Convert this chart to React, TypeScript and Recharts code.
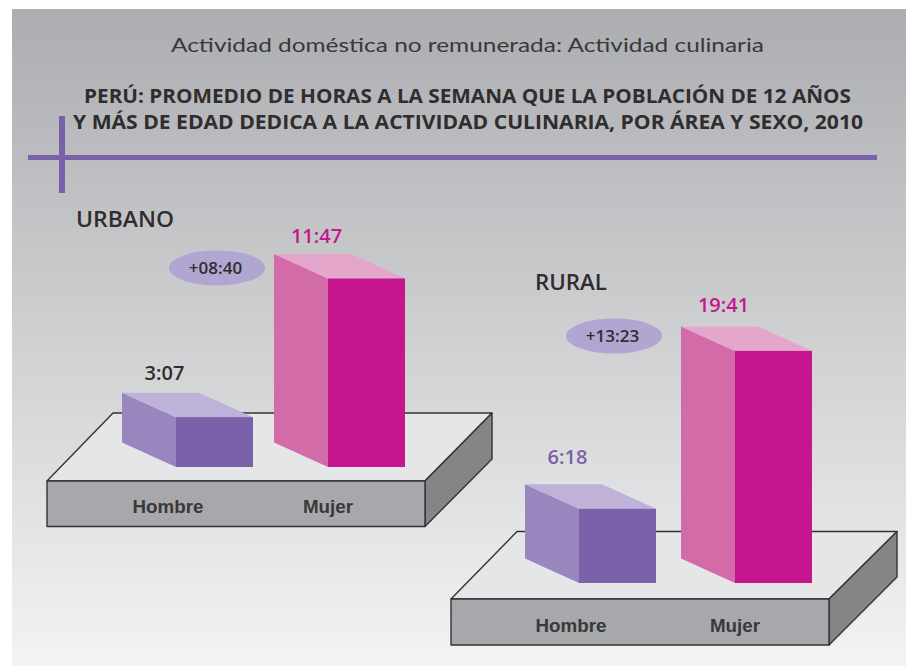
import React from "react";
import { BarChart, Bar, XAxis, YAxis, LabelList } from "recharts";

const categories = ["Hombre", "Mujer"];
const urbanHours = [3.117, 11.783];
const urbanLabels = ["3:07", "11:47"];
const urbanGap = "+08:40";
const ruralHours = [6.3, 19.683];
const ruralLabels = ["6:18", "19:41"];
const ruralGap = "+13:23";

const urbanData = categories.map((name, i) => ({ name, value: urbanHours[i], label: urbanLabels[i] }));
const ruralData = categories.map((name, i) => ({ name, value: ruralHours[i], label: ruralLabels[i] }));

const PALETTE = [
  { front: "#7a61a9", side: "#9a86bf", top: "#beb2d9" },
  { front: "#c6168d", side: "#d46ba9", top: "#e5a6cc" },
];
const DX = 54;
const DY = 24.5;
const SANS = "'Open Sans', sans-serif";
const HELV = "'Liberation Sans', Arial, sans-serif";
const INK = "#2f2d2e";
const TICK_SHIFT = [-46, -38];

const Box3D = (props: any) => {
  const { x, y, width, height, index } = props;
  const c = PALETTE[index];
  const b = y + height;
  return (
    <g>
      <polygon points={`${x},${y} ${x - DX},${y - DY} ${x - DX},${b - DY} ${x},${b}`} fill={c.side} />
      <polygon points={`${x},${y} ${x + width},${y} ${x + width - DX},${y - DY} ${x - DX},${y - DY}`} fill={c.top} />
      <rect x={x} y={y} width={width} height={height} fill={c.front} />
    </g>
  );
};

const valueLabel = (colors: string[], lift: number[]) => (props: any) => {
  const { x, y, width, value, index } = props;
  return (
    <text x={x + width / 2 - 50} y={y - lift[index]} textAnchor="middle" fontFamily={SANS} fontWeight={600} fontSize={20} fill={colors[index]}>
      {value}
    </text>
  );
};

const catTick = (drop: number) => (props: any) => {
  const { x, y, payload, index } = props;
  return (
    <text x={x + TICK_SHIFT[index]} y={y + drop} textAnchor="middle" fontFamily={HELV} fontWeight={700} fontSize={18.8} fill="#3a3839">
      {payload.value}
    </text>
  );
};

const Platform = ({ fx1, fx2, fy1, fy2, bx1, bx2, by1, by2 }: any) => (
  <g stroke="#333" strokeWidth={1.4} strokeLinejoin="round">
    <polygon points={`${fx1},${fy1} ${bx1},${by1} ${bx2},${by1} ${fx2},${fy1}`} fill="#e5e6e8" />
    <polygon points={`${fx2},${fy1} ${bx2},${by1} ${bx2},${by2} ${fx2},${fy2}`} fill="#848587" />
    <rect x={fx1} y={fy1} width={fx2 - fx1} height={fy2 - fy1} fill="#a7a8ab" />
  </g>
);

const Gap = ({ cx, cy, text }: any) => (
  <g>
    <ellipse cx={cx} cy={cy} rx={48} ry={17.5} fill="#b1a6d2" />
    <text x={cx - 1.5} y={cy + 6} textAnchor="middle" fontFamily={SANS} fontWeight={600} fontSize={17} fill={INK}>
      {text}
    </text>
  </g>
);

export default function App() {
  return (
    <div style={{ position: "absolute", left: 0, top: 0, width: 906, height: 666, background: "#fff", overflow: "hidden" }}>
      <svg width={906} height={666} style={{ position: "absolute", left: 0, top: 0 }}>
        <defs>
          <linearGradient id="bg" x1="0" y1="0" x2="0" y2="1">
            <stop offset="0" stopColor="#acadb0" />
            <stop offset="1" stopColor="#f2f3f4" />
          </linearGradient>
        </defs>
        <rect x={12} y={9} width={894} height={657} fill="url(#bg)" />
        <text x={467.5} y={52} textAnchor="middle" fontFamily="Lato, sans-serif" fontSize={20} fill="#3a3839" textLength={593} lengthAdjust="spacingAndGlyphs">
          Actividad doméstica no remunerada: Actividad culinaria
        </text>
        <text x={467.5} y={103} textAnchor="middle" fontFamily={SANS} fontWeight={700} fontSize={20} fill={INK} textLength={767} lengthAdjust="spacingAndGlyphs">
          PERÚ: PROMEDIO DE HORAS A LA SEMANA QUE LA POBLACIÓN DE 12 AÑOS
        </text>
        <text x={468} y={129} textAnchor="middle" fontFamily={SANS} fontWeight={700} fontSize={20} fill={INK} textLength={790} lengthAdjust="spacingAndGlyphs">
          Y MÁS DE EDAD DEDICA A LA ACTIVIDAD CULINARIA, POR ÁREA Y SEXO, 2010
        </text>
        <rect x={59} y={116} width={6} height={77} fill="#7a5fa9" />
        <rect x={28} y={155} width={849} height={5} fill="#7a5fa9" />
        <text x={76} y={227} fontFamily={SANS} fontWeight={600} fontSize={22} fill={INK} textLength={98} lengthAdjust="spacingAndGlyphs">URBANO</text>
        <text x={535} y={290} fontFamily={SANS} fontWeight={600} fontSize={22} fill={INK} textLength={72} lengthAdjust="spacingAndGlyphs">RURAL</text>
        <Platform fx1={47} fx2={425} fy1={481} fy2={526.5} bx1={113} bx2={492} by1={413} by2={459} />
        <Platform fx1={451} fx2={829} fy1={599} fy2={645} bx1={517} bx2={897} by1={531.5} by2={577} />
        <Gap cx={217} cy={268} text={urbanGap} />
        <Gap cx={614} cy={336} text={ruralGap} />
      </svg>

      <div style={{ position: "absolute", left: 37.5, top: 213 }}>
        <BarChart width={414} height={314} data={urbanData} margin={{ top: 30, right: 10, bottom: 0, left: 100 }} barCategoryGap={0}>
          <XAxis dataKey="name" axisLine={false} tickLine={false} height={60} tick={catTick(38)} interval={0} />
          <YAxis hide domain={[0, 14]} />
          <Bar dataKey="value" barSize={77} shape={<Box3D />} isAnimationActive={false}>
            <LabelList dataKey="label" content={valueLabel([INK, "#c6168d"], [37, 35])} />
          </Bar>
        </BarChart>
      </div>

      <div style={{ position: "absolute", left: 438.5, top: 270 }}>
        <BarChart width={422} height={373} data={ruralData} margin={{ top: 30, right: 10, bottom: 0, left: 100 }} barCategoryGap={0}>
          <XAxis dataKey="name" axisLine={false} tickLine={false} height={60} tick={catTick(41)} interval={0} />
          <YAxis hide domain={[0, 24]} />
          <Bar dataKey="value" barSize={77} shape={<Box3D />} isAnimationActive={false}>
            <LabelList dataKey="label" content={valueLabel(["#7a61a9", "#c6168d"], [45, 39])} />
          </Bar>
        </BarChart>
      </div>
    </div>
  );
}
